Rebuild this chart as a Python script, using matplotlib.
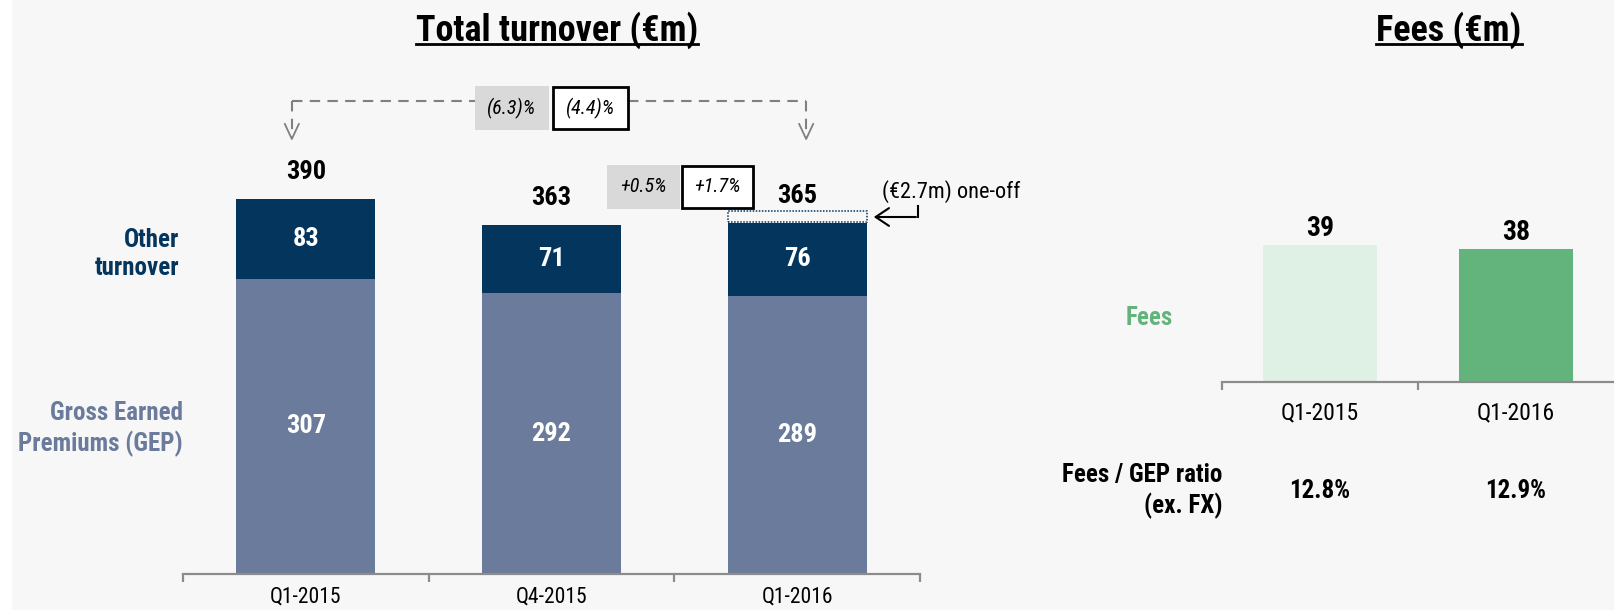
import matplotlib
matplotlib.use("Agg")
import matplotlib.pyplot as plt
from matplotlib.patches import Rectangle, FancyArrowPatch
from matplotlib.lines import Line2D

# ---------------- data ----------------
periods = ["Q1-2015", "Q4-2015", "Q1-2016"]
gep = [307, 292, 289]
other_turnover = [83, 71, 76]
totals = [390, 363, 365]
one_off_label = "(€2.7m) one-off"
change_long = ["(6.3)%", "(4.4)%"]      # Q1-2016 vs Q1-2015
change_short = ["+0.5%", "+1.7%"]       # Q1-2016 vs Q4-2015

fee_periods = ["Q1-2015", "Q1-2016"]
fees = [39, 38]
fee_gep_ratio = ["12.8%", "12.9%"]

# ---------------- style ----------------
W, H = 1614, 610
BG = "#f7f7f7"
NAVY = "#03355d"
GEPC = "#6b7b9b"
GREEN_L = "#dff0e5"
GREEN = "#63b47c"
AXC = "#8c8c8c"
FONT = ["Liberation Sans Narrow", "Roboto Condensed", "Liberation Sans", "DejaVu Sans"]
plt.rcParams["font.family"] = FONT

fig = plt.figure(figsize=(W / 100, H / 100), dpi=100, facecolor=BG)
fig.patches.append(Rectangle((0, 0), 12 / W, 1, transform=fig.transFigure,
                             facecolor="white", edgecolor="none", zorder=0))


def fx(px):
    return px / W


def fy(py):
    return 1 - py / H


def fig_px(ax, x, y):
    """data -> top-left pixel coordinates"""
    dx, dy = ax.transData.transform((x, y))
    return dx, H - dy


def style_axis(ax, n_bounds):
    ax.set_facecolor("none")
    for s in ["top", "right", "left"]:
        ax.spines[s].set_visible(False)
    ax.spines["bottom"].set_color(AXC)
    ax.spines["bottom"].set_linewidth(1.6)
    ax.set_yticks([])
    ax.set_xticks([i - 0.5 for i in range(n_bounds)])
    ax.set_xticklabels([])
    ax.tick_params(axis="x", length=6, width=1.6, color=AXC, direction="out")


# ---------------- left chart ----------------
axL = fig.add_axes([fx(183), 1 - 574 / H, fx(920 - 183), 574 / H])
axL.set_xlim(-0.5, 2.5)
axL.set_ylim(0, 574 / 0.962)
style_axis(axL, 4)
xs = list(range(len(periods)))
bw = 0.565
axL.bar(xs, gep, width=bw, color=GEPC, zorder=2)
axL.bar(xs, other_turnover, bottom=gep, width=bw, color=NAVY, zorder=2)

for i in xs:
    axL.text(i, gep[i] / 2, f"{gep[i]}", color="white", fontsize=19,
             fontweight="bold", ha="center", va="center")
    axL.text(i, gep[i] + other_turnover[i] / 2, f"{other_turnover[i]}",
             color="white", fontsize=19, fontweight="bold", ha="center", va="center")
    axL.annotate(f"{totals[i]}", (i, totals[i]), xytext=(0, 19),
                 textcoords="offset points", ha="center", va="center",
                 fontsize=19, fontweight="bold", color="black")
    axL.text(i, -23 / 0.962, periods[i], ha="center", va="center", fontsize=15.5,
             color="black")

# one-off dotted box on top of last bar
fig.canvas.draw()
bx0, by0 = fig_px(axL, 2 - bw / 2, totals[2])
bx1, _ = fig_px(axL, 2 + bw / 2, totals[2])
fig.patches.append(Rectangle((fx(bx0), fy(by0 - 1)), fx(bx1 - bx0), 11 / H,
                             transform=fig.transFigure, facecolor="none",
                             edgecolor=NAVY, linestyle=(0, (1, 1)), linewidth=1.1, zorder=3))
fig.text(fx(882), fy(192), one_off_label, fontsize=16, ha="left", va="center")
fig.lines.append(Line2D([fx(918), fx(918)], [fy(206), fy(217)], transform=fig.transFigure,
                        color="black", linewidth=1.5))
fig.patches.append(FancyArrowPatch(
    (fx(918.7), fy(217)), (fx(871), fy(217)), transform=fig.transFigure,
    arrowstyle="->,head_length=6,head_width=4", color="black", linewidth=1.5,
    mutation_scale=1.6))

# long-range comparison bracket
lx, _ = fig_px(axL, 0, 0)
rx, _ = fig_px(axL, 2, 0)
lx -= 14
rx += 9
ybr = 101
dash = (0, (5, 3.5))
fig.lines.append(Line2D([fx(lx), fx(475)], [fy(ybr), fy(ybr)], transform=fig.transFigure,
                        color="#808080", linewidth=1.5, linestyle=dash))
fig.lines.append(Line2D([fx(628), fx(rx)], [fy(ybr), fy(ybr)], transform=fig.transFigure,
                        color="#808080", linewidth=1.5, linestyle=dash))
for xa in (lx, rx):
    fig.lines.append(Line2D([fx(xa), fx(xa)], [fy(ybr), fy(138)], transform=fig.transFigure,
                            color="#808080", linewidth=1.5, linestyle=dash))
    fig.lines.append(Line2D([fx(xa - 7), fx(xa), fx(xa + 7)], [fy(124), fy(139), fy(124)],
                            transform=fig.transFigure, color="#808080", linewidth=1.3))


def cmp_box(x0, x1, y0, y1, txt, grey):
    if grey:
        fig.patches.append(Rectangle((fx(x0), fy(y1)), fx(x1 - x0), (y1 - y0) / H,
                                     transform=fig.transFigure, facecolor="#d9d9d9",
                                     edgecolor="none", zorder=3))
    else:
        fig.patches.append(Rectangle((fx(x0), fy(y1)), fx(x1 - x0), (y1 - y0) / H,
                                     transform=fig.transFigure, facecolor="white",
                                     edgecolor="black", linewidth=2, zorder=3))
    fig.text(fx((x0 + x1) / 2), fy((y0 + y1) / 2), txt, fontsize=14.5, style="italic",
             ha="center", va="center", zorder=4)


cmp_box(475, 549, 86, 130, change_long[0], True)
cmp_box(553, 628, 87, 129, change_long[1], False)
cmp_box(607, 680, 165, 209, change_short[0], True)
cmp_box(682, 753, 166, 208, change_short[1], False)

# series labels
fig.text(fx(179), fy(254), "Other\nturnover", color=NAVY, fontsize=18, fontweight="bold",
         ha="right", va="center", multialignment="right", linespacing=1.25)
fig.text(fx(183), fy(429), "Gross Earned\nPremiums (GEP)", color=GEPC, fontsize=18,
         fontweight="bold", ha="right", va="center", multialignment="right", linespacing=1.25)

# ---------------- right chart ----------------
axR = fig.add_axes([fx(1222), 1 - 382 / H, fx(W - 1222), 382 / H])
axR.set_xlim(-0.5, -0.5 + (W - 1222) / 202.5)
axR.set_ylim(0, 382 / 3.5)
style_axis(axR, 3)
axR.set_xticks([-0.5, 0.5])
axR.tick_params(axis="x", length=6, width=1.6, color=AXC)
rx_ = list(range(len(fee_periods)))
axR.bar(rx_, fees, width=0.585, color=[GREEN_L, GREEN], zorder=2)
for i in rx_:
    axR.annotate(f"{fees[i]}", (i, fees[i]), xytext=(0, 12), textcoords="offset points",
                 ha="center", va="center", fontsize=20, fontweight="bold")
    axR.text(i, -31 / 3.5, fee_periods[i], ha="center", va="center", fontsize=17)
    axR.text(i, -109 / 3.5, fee_gep_ratio[i], ha="center", va="center", fontsize=18,
             fontweight="bold")

fig.text(fx(1173), fy(318), "Fees", color=GREEN, fontsize=18, fontweight="bold",
         ha="right", va="center")
fig.text(fx(1222), fy(491), "Fees / GEP ratio\n(ex. FX)", fontsize=18, fontweight="bold",
         ha="right", va="center", multialignment="right", linespacing=1.3)

# ---------------- titles with underline ----------------
renderer = fig.canvas.get_renderer()
for cx, txt in [(557, "Total turnover (€m)"), (1449, "Fees (€m)")]:
    t = fig.text(fx(cx), fy(30), txt, fontsize=26, fontweight="bold", ha="center",
                 va="center")
    bb = t.get_window_extent(renderer)
    fig.lines.append(Line2D([bb.x0 / W, bb.x1 / W], [fy(44), fy(44)],
                            transform=fig.transFigure, color="black", linewidth=2))

fig.savefig("out.png", dpi=100, facecolor=BG)
